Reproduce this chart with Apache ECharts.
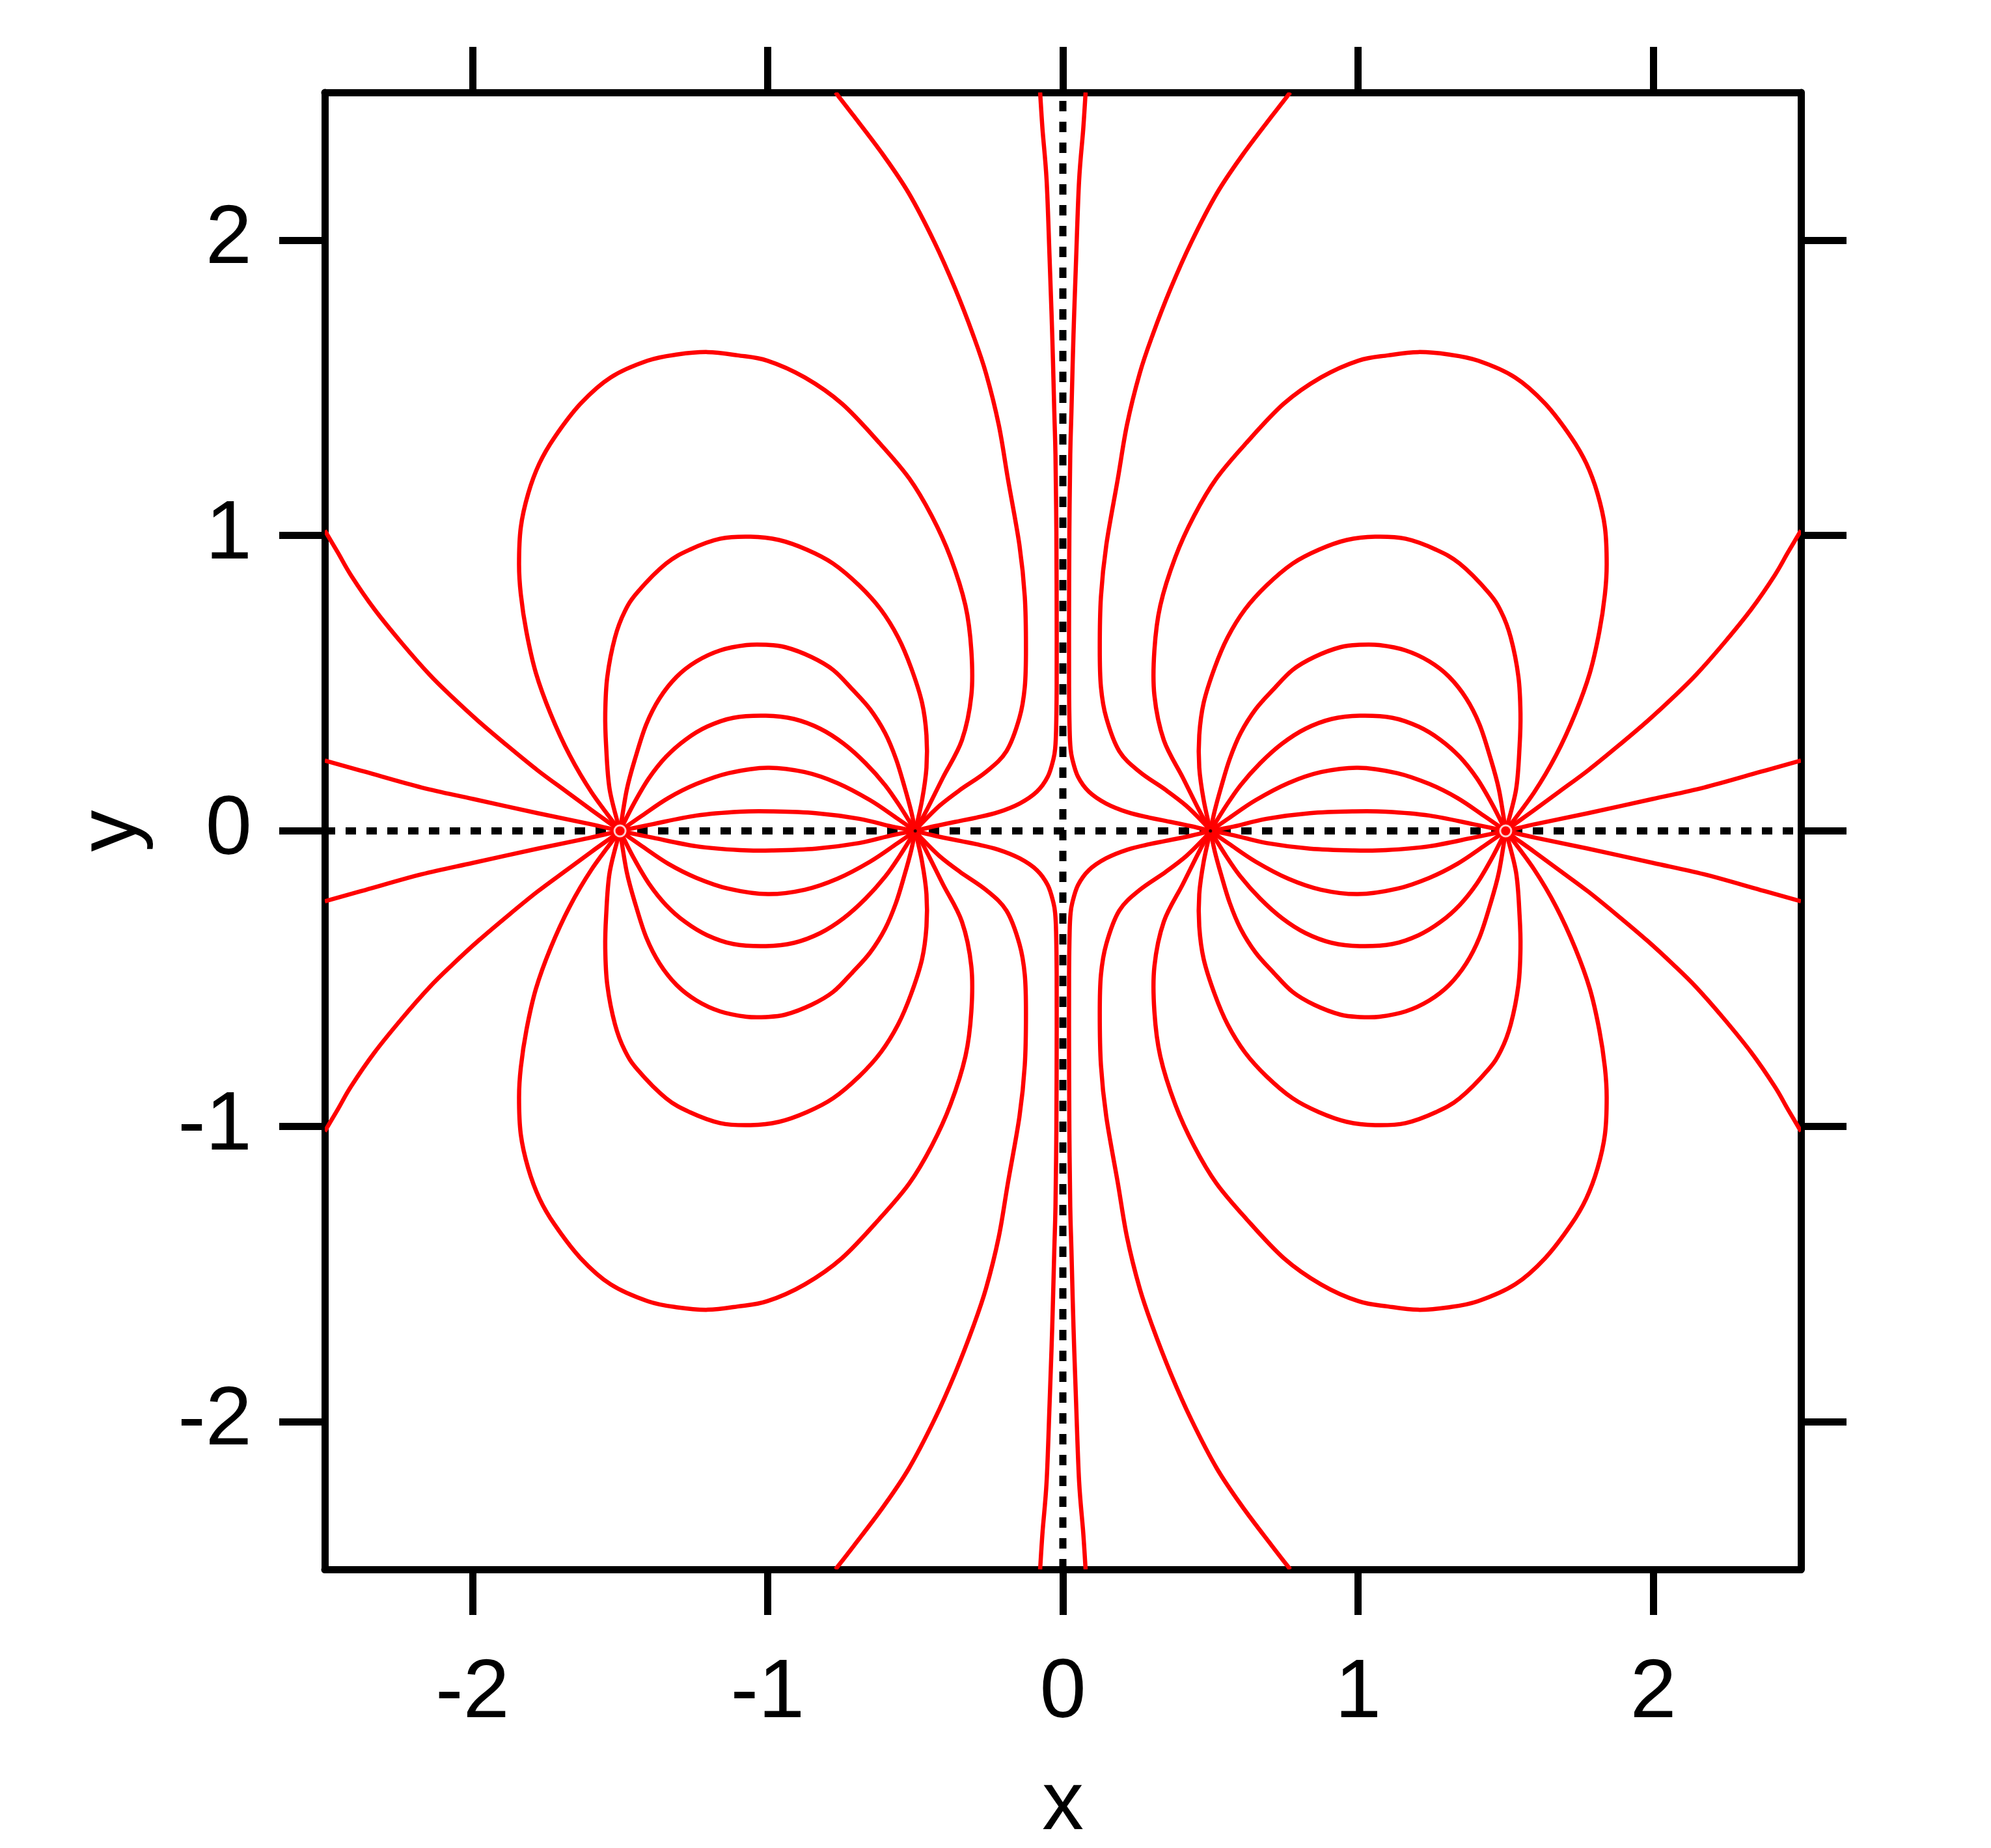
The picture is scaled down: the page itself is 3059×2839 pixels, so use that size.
<!DOCTYPE html>
<html><head><meta charset="utf-8">
<script src="https://cdn.jsdelivr.net/npm/echarts@6/dist/echarts.min.js"></script>
<style>html,body{margin:0;padding:0;background:#fff}#c{width:3059px;height:2839px}</style>
</head><body><div id="c"></div>
<script>
// ---- axes ----
const xRange = [-2.5, 2.5];
const yRange = [-2.5, 2.5];
const tickValues = [-2, -1, 0, 1, 2];
// ---- charges ----
const ringCharges = [[-1.5, 0], [1.5, 0]];
const dotCharges = [[-0.5, 0], [0.5, 0]];
// ---- dotted reference lines ----
const horizontalZero = [[-2.5, 0], [2.5, 0]];
const verticalZero = [[0, -2.5], [0, 2.5]];
// ---- field lines of the upper-left quadrant (x, y) ----
const edgeLineHigh = [[-2.5,1.017],[-2.455,0.941],[-2.411,0.865],[-2.333,0.752],[-2.241,0.638],[-2.146,0.53],[-2.067,0.452],[-1.98,0.372],[-1.875,0.283],[-1.779,0.205],[-1.683,0.134],[-1.596,0.07],[-1.526,0.02],[-1.5,0]];
const edgeLineLow = [[-2.5,0.238],[-2.363,0.2],[-2.172,0.147],[-1.997,0.108],[-1.779,0.06],[-1.605,0.024],[-1.518,0.004],[-1.5,0]];
const loopA = [[-1.5,0],[-1.389,0.023],[-1.241,0.052],[-1.094,0.065],[-0.984,0.066],[-0.837,0.06],[-0.69,0.041],[-0.58,0.015],[-0.5,0]];
const loopB = [[-1.5,0],[-1.425,0.052],[-1.337,0.111],[-1.241,0.159],[-1.131,0.196],[-0.999,0.214],[-0.874,0.199],[-0.764,0.162],[-0.653,0.104],[-0.565,0.045],[-0.5,0]];
const loopC = [[-1.5,0],[-1.455,0.089],[-1.403,0.177],[-1.344,0.251],[-1.278,0.309],[-1.205,0.353],[-1.116,0.383],[-1.006,0.39],[-0.911,0.379],[-0.822,0.346],[-0.742,0.295],[-0.668,0.229],[-0.602,0.155],[-0.551,0.082],[-0.5,0]];
const loopD = [[-1.5,0],[-1.477,0.14],[-1.447,0.251],[-1.411,0.361],[-1.366,0.449],[-1.308,0.522],[-1.241,0.574],[-1.161,0.611],[-1.072,0.629],[-1.006,0.63],[-0.94,0.622],[-0.852,0.589],[-0.778,0.545],[-0.712,0.478],[-0.653,0.412],[-0.602,0.331],[-0.565,0.243],[-0.536,0.148],[-0.514,0.067],[-0.5,0]];
const loopE = [[-1.5,0],[-1.535,0.14],[-1.547,0.287],[-1.55,0.398],[-1.543,0.522],[-1.517,0.655],[-1.484,0.743],[-1.44,0.809],[-1.344,0.905],[-1.264,0.952],[-1.161,0.989],[-1.058,0.996],[-0.962,0.985],[-0.867,0.952],[-0.778,0.905],[-0.69,0.831],[-0.617,0.75],[-0.558,0.655],[-0.514,0.552],[-0.477,0.434],[-0.462,0.324],[-0.462,0.214],[-0.477,0.104],[-0.5,0]];
const loopF = [[-1.5,0],[-1.596,0.13],[-1.671,0.257],[-1.735,0.396],[-1.785,0.535],[-1.817,0.674],[-1.836,0.801],[-1.842,0.902],[-1.836,1.028],[-1.811,1.142],[-1.773,1.244],[-1.722,1.332],[-1.634,1.446],[-1.532,1.535],[-1.406,1.592],[-1.305,1.613],[-1.203,1.621],[-1.102,1.61],[-1.001,1.592],[-0.874,1.535],[-0.748,1.446],[-0.621,1.313],[-0.52,1.193],[-0.444,1.066],[-0.381,0.927],[-0.33,0.763],[-0.31,0.611],[-0.31,0.459],[-0.342,0.307],[-0.406,0.181],[-0.463,0.067],[-0.5,0]];
const topLineOuter = [[-0.77,2.5],[-0.708,2.42],[-0.609,2.289],[-0.522,2.159],[-0.435,1.993],[-0.365,1.836],[-0.304,1.679],[-0.26,1.548],[-0.217,1.374],[-0.186,1.191],[-0.147,0.967],[-0.129,0.793],[-0.125,0.618],[-0.129,0.487],[-0.147,0.383],[-0.191,0.27],[-0.26,0.2],[-0.348,0.139],[-0.417,0.086],[-0.478,0.026],[-0.5,0]];
const topLineInner = [[-0.077,2.5],[-0.069,2.376],[-0.055,2.202],[-0.045,1.94],[-0.036,1.679],[-0.029,1.418],[-0.025,1.272],[-0.022,1.011],[-0.021,0.749],[-0.021,0.487],[-0.023,0.34],[-0.026,0.28],[-0.032,0.243],[-0.051,0.184],[-0.088,0.133],[-0.146,0.093],[-0.22,0.063],[-0.293,0.045],[-0.348,0.034],[-0.435,0.016],[-0.5,0]];

const quadrantLines = [edgeLineHigh, edgeLineLow, loopA, loopB, loopC, loopD, loopE, loopF, topLineOuter, topLineInner];
// the figure is mirror-symmetric about both axes
const mirrors = [[1, 1], [-1, 1], [1, -1], [-1, -1]];

const FONT = 'Liberation Sans';
const RED = '#ff0000';

// smooth curve through the data points (Catmull-Rom drawn as cubic Beziers), positioned by the axes
function smoothCurveSeries(points) {
  return {
    type: 'custom', coordinateSystem: 'cartesian2d', data: points, z: 3, silent: true, clip: true,
    encode: { x: 0, y: 1 },
    renderItem: function (params, api) {
      if (params.dataIndex !== 0) return null;
      const P = points.map(p => api.coord(p));
      const n = P.length;
      let d = 'M' + P[0][0].toFixed(2) + ' ' + P[0][1].toFixed(2);
      for (let i = 0; i < n - 1; i++) {
        const p0 = P[Math.max(i - 1, 0)], p1 = P[i], p2 = P[i + 1], p3 = P[Math.min(i + 2, n - 1)];
        const c1x = p1[0] + (p2[0] - p0[0]) / 6, c1y = p1[1] + (p2[1] - p0[1]) / 6;
        const c2x = p2[0] - (p3[0] - p1[0]) / 6, c2y = p2[1] - (p3[1] - p1[1]) / 6;
        d += ' C' + c1x.toFixed(2) + ' ' + c1y.toFixed(2) + ' ' + c2x.toFixed(2) + ' ' + c2y.toFixed(2) + ' ' + p2[0].toFixed(2) + ' ' + p2[1].toFixed(2);
      }
      return {
        type: 'path', shape: { pathData: d },
        style: { stroke: RED, lineWidth: 6.5, fill: null, lineJoin: 'round' }
      };
    }
  };
}

const series = [];
series.push({
  type: 'line', data: horizontalZero, showSymbol: false, silent: true, z: 2,
  lineStyle: { color: '#000', width: 11, type: [16, 16] }
});
mirrors.forEach(([sx, sy]) => {
  quadrantLines.forEach(line => {
    series.push(smoothCurveSeries(line.map(p => [sx * p[0], sy * p[1]])));
  });
});
series.push({
  type: 'line', data: verticalZero, showSymbol: false, silent: true, z: 4,
  lineStyle: { color: '#000', width: 11, type: [16, 16] }
});
series.push({
  type: 'scatter', data: ringCharges, symbol: 'circle', symbolSize: 17, z: 5, silent: true,
  itemStyle: { color: 'rgba(0,0,0,0)', borderColor: '#fff', borderWidth: 3 }
});
series.push({
  type: 'scatter', data: dotCharges, symbol: 'circle', symbolSize: 5, z: 5, silent: true,
  itemStyle: { color: '#000' }
});

function axisCommon(showLabels, pos) {
  return {
    type: 'value', position: pos,
    axisLine: { show: true, onZero: false, lineStyle: { color: '#000', width: 11 } },
    axisTick: { show: true, inside: false, length: 70, customValues: tickValues, lineStyle: { color: '#000', width: 11 } },
    axisLabel: { show: showLabels, customValues: tickValues, fontSize: 128, fontFamily: FONT, color: '#000' },
    splitLine: { show: false }
  };
}
const xb = axisCommon(true, 'bottom');
xb.min = xRange[0]; xb.max = xRange[1];
xb.axisLabel.margin = 128;
xb.name = 'x'; xb.nameLocation = 'middle'; xb.nameGap = 300;
xb.nameTextStyle = { fontSize: 128, fontFamily: FONT, color: '#000' };
const xt = axisCommon(false, 'top');
xt.min = xRange[0]; xt.max = xRange[1];
const yl = axisCommon(true, 'left');
yl.min = yRange[0]; yl.max = yRange[1];
yl.axisLabel.margin = 112;
yl.name = 'y'; yl.nameLocation = 'middle'; yl.nameGap = 262;
yl.nameTextStyle = { fontSize: 128, fontFamily: FONT, color: '#000' };
const yr = axisCommon(false, 'right');
yr.min = yRange[0]; yr.max = yRange[1];

const chart = echarts.init(document.getElementById('c'), null, { renderer: 'canvas' });
chart.setOption({
  backgroundColor: '#fff',
  animation: false,
  grid: { left: 499, top: 142, width: 2268, height: 2269, containLabel: false, outerBoundsMode: 'none' },
  xAxis: [xb, xt],
  yAxis: [yl, yr],
  series: series
});
</script>
</body></html>
